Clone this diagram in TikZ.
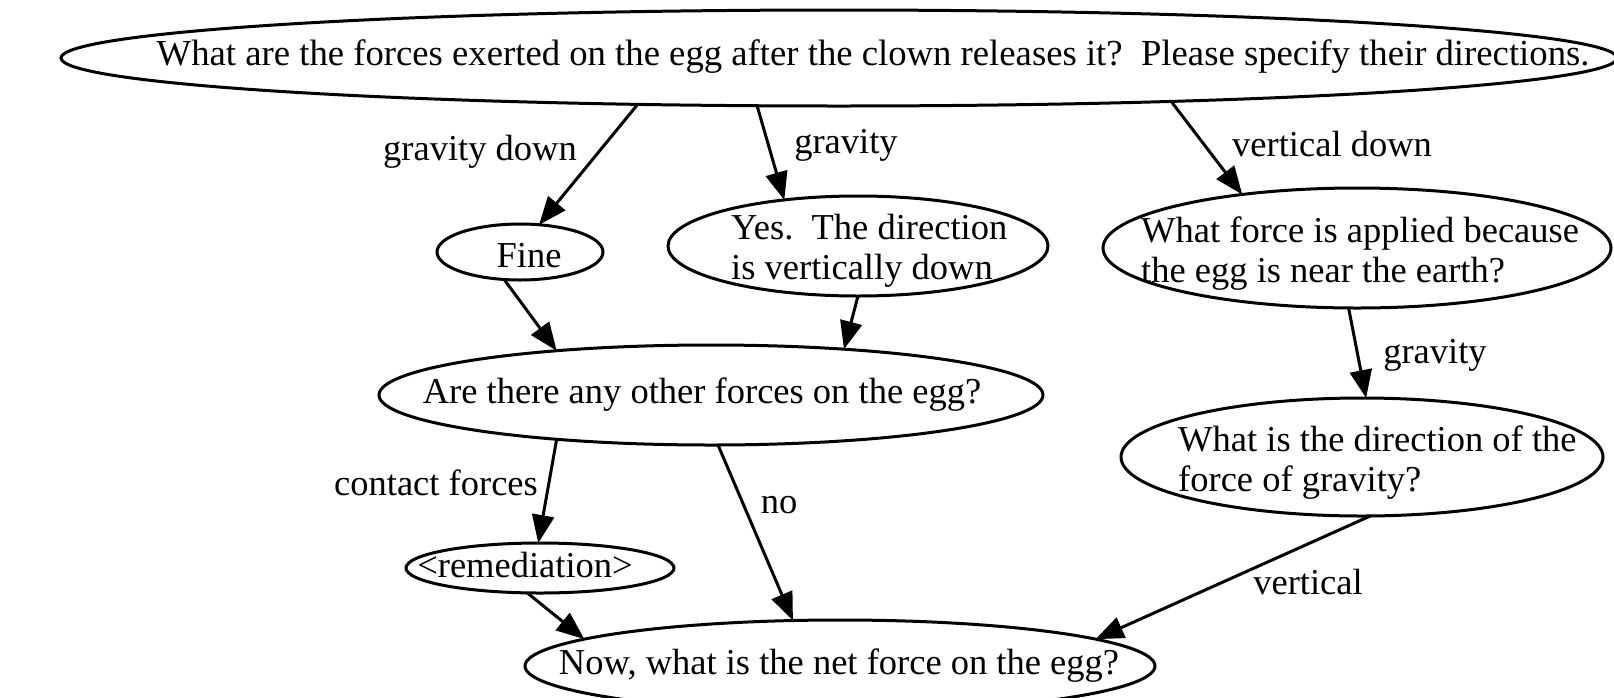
\documentclass[tikz,border=0pt]{standalone}
\usepackage{fontspec}
\setmainfont{Liberation Serif}
\usetikzlibrary{shapes.geometric,arrows.meta}
\begin{document}
\begin{tikzpicture}[x=1pt,y=-1pt,
  egg/.style={draw, ellipse, line width=3pt, inner sep=0pt, outer sep=0pt},
  txt/.style={inner sep=0pt, font=\fontsize{36.5}{40}\selectfont},
  lbl/.style={inner sep=0pt, font=\fontsize{36.5}{40}\selectfont},
  link/.style={line width=3pt, -{Triangle[length=28pt,width=22pt]}}]
\useasboundingbox (0,0) rectangle (1614,697);
\clip (0,0) rectangle (1614,697);
% ellipses
\node[egg, minimum width=1556pt, minimum height=96pt] (top) at (839,58) {};
\node[egg, minimum width=166pt, minimum height=56pt] (fine) at (520,252) {};
\node[egg, minimum width=380pt, minimum height=100pt] (yes) at (858,246) {};
\node[egg, minimum width=508pt, minimum height=120pt] (force) at (1357,248) {};
\node[egg, minimum width=664pt, minimum height=100pt] (are) at (711,395) {};
\node[egg, minimum width=482pt, minimum height=118pt] (dir) at (1362,457) {};
\node[egg, minimum width=268pt, minimum height=50pt] (rem) at (540,568) {};
\node[egg, minimum width=630pt, minimum height=92pt] (now) at (840,666) {};
% texts
\node[txt, font=\fontsize{36.7}{40}\selectfont] (topT) at (873,57) {What are the forces exerted on the egg after the clown releases it?\ \ Please specify their directions.};
\node[txt] (fineT) at (529,256) {Fine};
\node[txt, anchor=west, align=left] (yesT) at (731,251) {Yes.\ \ The direction\\is vertically down};
\node[txt, anchor=west, align=left] (forceT) at (1141,254) {What force is applied because\\the egg is near the earth?};
\node[txt] (areT) at (702,395) {Are there any other forces on the egg?};
\node[txt, anchor=west, align=left] (dirT) at (1178,463) {What is the direction of the\\force of gravity?};
\node[txt] (remT) at (525,565) {<remediation>};
\node[txt] (nowT) at (839,666) {Now, what is the net force on the egg?};
% edges
\draw[link] ([shift={(-201,46)}]top.center) -- (fine.55.6);
\draw[link] ([shift={(-82,47.5)}]top.center) -- (yes.148.1);
\draw[link] ([shift={(333,44.5)}]top.center) -- (force.155.5);
\draw[link] (fine.-120.2) -- (are.164.8);
\draw[link] (yes.-90) -- (are.19.3);
\draw[link] (force.-98.5) -- (dir.86.1);
\draw[link] (are.-164.1) -- (rem.94.6);
\draw[link] (are.-82) -- (now.136.5);
\draw[link] (rem.-117.6) -- (now.174.6);
\draw[link] (dir.-82.3) -- (now.6.8);
% labels
\node[lbl] (l1) at (480,152) {gravity down};
\node[lbl] (l2) at (846,145) {gravity};
\node[lbl] (l3) at (1332,144) {vertical down};
\node[lbl] (l4) at (1435,355) {gravity};
\node[lbl] (l5) at (436,483) {contact forces};
\node[lbl] (l6) at (779,505) {no};
\node[lbl] (l7) at (1308,582) {vertical};
\end{tikzpicture}
\end{document}
